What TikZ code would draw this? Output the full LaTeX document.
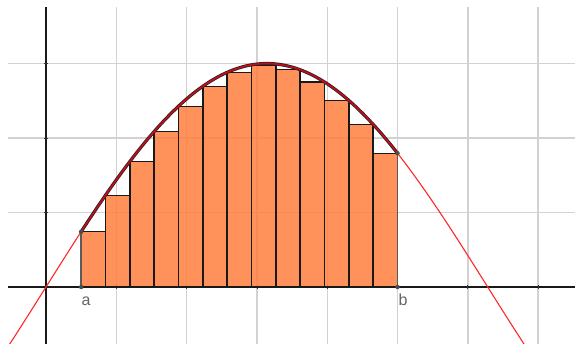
\documentclass[tikz,border=0pt]{standalone}
\usepackage{fontspec}
\setmainfont{Liberation Sans}
\definecolor{gridc}{RGB}{210,210,210}
\definecolor{rectfill}{RGB}{255,127,61}
\definecolor{curvered}{RGB}{255,40,40}
\definecolor{darkred}{RGB}{200,10,25}
\definecolor{labelgrey}{RGB}{100,100,100}
\definecolor{edgegrey}{RGB}{90,90,90}
\tikzset{
  gridline/.style={draw=gridc, line width=1.4pt},
  axisline/.style={draw=black!90, line width=1.5pt},
  riemann/.style={fill=rectfill, fill opacity=0.85, draw=black!90, line width=1.4pt},
  fcurve/.style={draw=curvered, line width=1.1pt},
  fcurveback/.style={draw=black!85, line width=3.2pt},
  fcurvefront/.style={draw=darkred, line width=1.6pt},
  bound/.style={draw=edgegrey, line width=1.3pt},
  ptdot/.style={circle, fill=black!70, inner sep=0pt, minimum size=4.5pt},
  lbl/.style={text=labelgrey, font=\fontsize{16}{18}\selectfont, anchor=base}
}
\begin{document}
\begin{tikzpicture}[x=70.3pt, y=74.5pt]
\useasboundingbox (-46pt,-57pt) rectangle (533pt,287pt);
\begin{scope}
\clip (-46pt,-57pt) rectangle (533pt,287pt);
% grid
\foreach \gy in {1,2,3} \draw[gridline] (-38pt,\gy) -- (529pt,\gy);
\foreach \gx in {1,...,7} \draw[gridline] (\gx,-57pt) -- (\gx,280pt);
% axes
\draw[axisline] (-38pt,0) -- (529pt,0);
\draw[axisline] (0,-57pt) -- (0,280pt);
\foreach \gx in {1,...,7} \draw[black!80, line width=0.8pt] (\gx,-2pt) -- (\gx,2pt);
\foreach \gy in {1,2,3} \draw[black!80, line width=0.8pt] (-2pt,\gy) -- (2pt,\gy);
% rectangles (lower sum, n=13 on [0.5,5])
\foreach \k in {0,...,12}{
  \pgfmathsetmacro{\xl}{0.5+\k*4.5/13}
  \pgfmathsetmacro{\xr}{0.5+(\k+1)*4.5/13}
  \pgfmathsetmacro{\hh}{min(3*sin(\xl/2 r),3*sin(\xr/2 r))}
  \draw[riemann] (\xl,0) rectangle (\xr,\hh);
}
% curve
\draw[fcurve] plot[domain=-0.7:7.1, samples=120, smooth] (\x,{3*sin(\x/2 r)});
\draw[fcurveback] plot[domain=0.5:5, samples=80, smooth] (\x,{3*sin(\x/2 r)});
\draw[fcurvefront] plot[domain=0.5:5, samples=80, smooth] (\x,{3*sin(\x/2 r)});
\end{scope}
% bounds and points
\coordinate (a0) at (0.5,0);
\coordinate (b0) at (5,0);
\coordinate (af) at (0.5,{3*sin(0.25 r)});
\coordinate (bf) at (5,{3*sin(2.5 r)});
\draw[bound] (a0) -- (af);
\draw[bound] (b0) -- (bf);
\node[ptdot] (pa0) at (a0) {};
\node[ptdot] (pb0) at (b0) {};
\node[ptdot] (paf) at (af) {};
\node[ptdot] (pbf) at (bf) {};
\node[lbl] (la) at (40pt,-19pt) {a};
\node[lbl] (lb) at (357pt,-19pt) {b};
\end{tikzpicture}
\end{document}
